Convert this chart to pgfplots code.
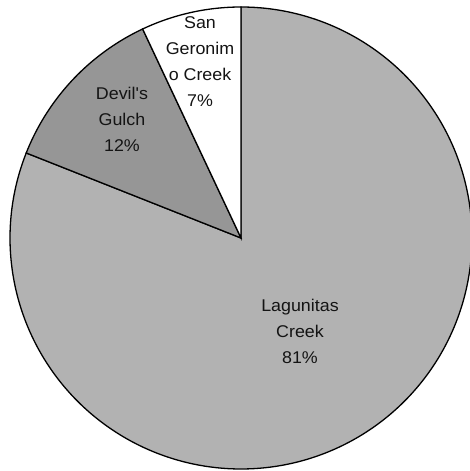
\documentclass[border=0pt]{standalone}
\usepackage{pgfplots}
\usepackage{pgfplotstable}
\usepackage{fontspec}
\setmainfont{Liberation Sans}
\newfontfamily\lab[FakeStretch=1.05]{Liberation Sans}
\pgfplotsset{compat=1.18}
\pgfplotstableread{
name share
Lagunitas 81
Devils 12
SanGeronimo 7
}\piedata
\definecolor{lag}{RGB}{178,178,178}
\definecolor{dev}{RGB}{150,150,150}
\begin{document}%
\begin{tikzpicture}%
\pgfplotstablegetelem{0}{share}\of\piedata \let\va\pgfplotsretval
\pgfplotstablegetelem{1}{share}\of\piedata \let\vb\pgfplotsretval
\pgfplotstablegetelem{2}{share}\of\piedata \let\vc\pgfplotsretval
\pgfmathsetmacro{\aA}{90}
\pgfmathsetmacro{\aB}{90-3.6*\va}
\pgfmathsetmacro{\aC}{\aB-3.6*\vb}
\pgfmathsetmacro{\aD}{\aC-3.6*\vc}
\useasboundingbox (0,0) rectangle (470bp,471bp);
\begin{axis}[at={(0,0)},anchor=south west,
  scale only axis, width=470bp, height=471bp,
  xmin=0, xmax=470, ymin=0, ymax=471,
  hide axis, clip=true]
\addplot[fill=lag, draw=black, line width=1.3bp, domain=\aB:\aA, samples=200, smooth]
  ({241+231*cos(x)},{233+231*sin(x)}) -- (axis cs:241,233) -- cycle;
\addplot[fill=dev, draw=black, line width=1.3bp, domain=\aC:\aB, samples=60, smooth]
  ({241+231*cos(x)},{233+231*sin(x)}) -- (axis cs:241,233) -- cycle;
\addplot[fill=white, draw=black, line width=1.3bp, domain=\aD:\aC, samples=40, smooth]
  ({241+231*cos(x)},{233+231*sin(x)}) -- (axis cs:241,233) -- cycle;
\end{axis}
\begin{scope}[every node/.style={align=center, text=black!92, font=\lab\fontsize{17bp}{26bp}\selectfont}]
\node at (200bp,409bp) {San\\Geronim\\o Creek\\7\%};
\node at (122bp,351.7bp) {Devil's\\Gulch\\12\%};
\node at (300bp,140bp) {Lagunitas\\Creek\\81\%};
\end{scope}
\end{tikzpicture}%
\end{document}
